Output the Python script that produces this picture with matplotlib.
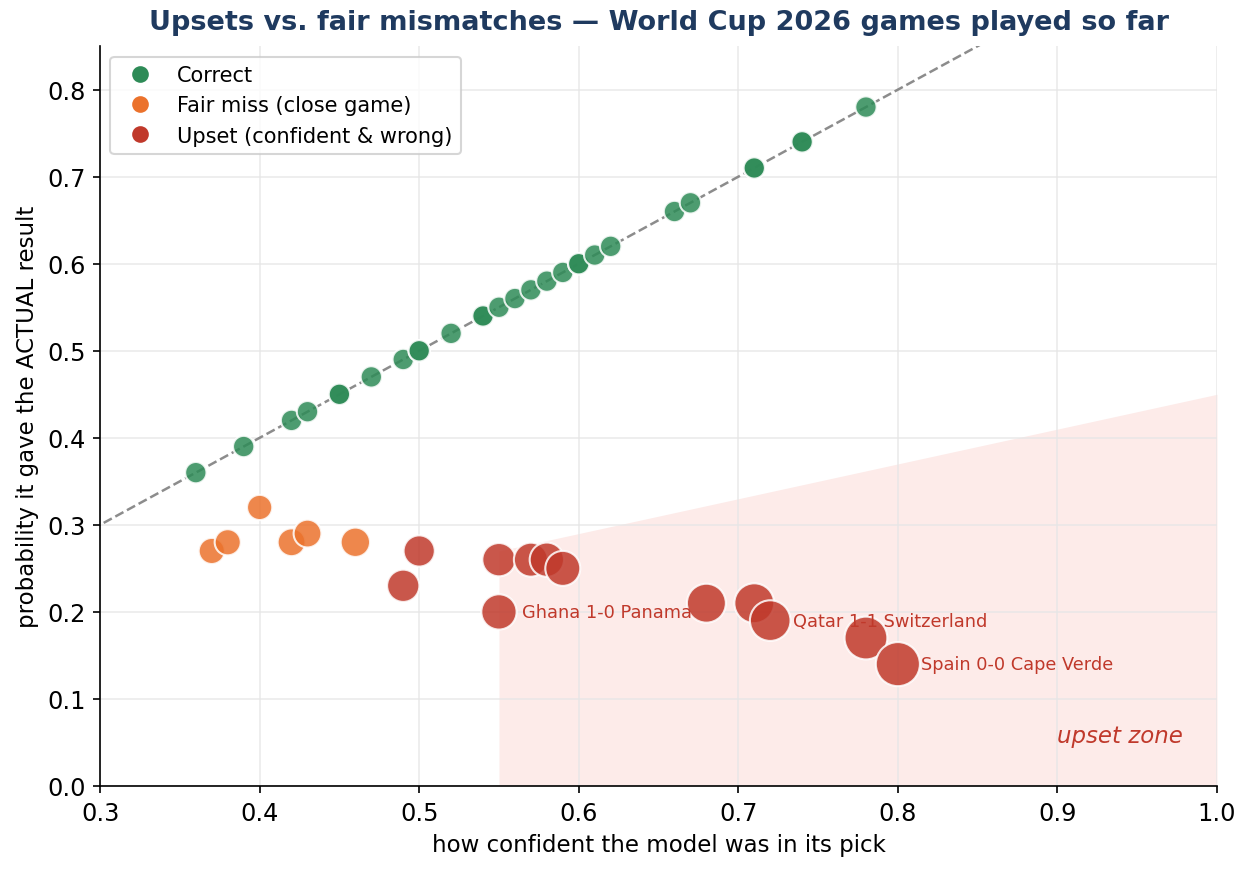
import numpy as np
import matplotlib
matplotlib.use("Agg")
import matplotlib.pyplot as plt
from matplotlib.lines import Line2D

# model confidence in its pick vs probability it gave the actual result
correct_conf = [0.36, 0.39, 0.42, 0.43, 0.45, 0.45, 0.47, 0.49, 0.50, 0.50, 0.52,
                0.54, 0.54, 0.55, 0.56, 0.57, 0.58, 0.59, 0.60, 0.60, 0.61, 0.62,
                0.66, 0.67, 0.71, 0.71, 0.74, 0.74, 0.78]
correct_actual = list(correct_conf)

fair_conf = [0.37, 0.38, 0.40, 0.42, 0.43, 0.46]
fair_actual = [0.27, 0.28, 0.32, 0.28, 0.29, 0.28]

upset_conf = [0.50, 0.49, 0.55, 0.57, 0.58, 0.59, 0.55, 0.68, 0.71, 0.72, 0.78, 0.80]
upset_actual = [0.27, 0.23, 0.26, 0.26, 0.26, 0.25, 0.20, 0.21, 0.21, 0.19, 0.17, 0.14]

labelled = ["Ghana 1-0 Panama", "Qatar 1-1 Switzerland", "Spain 0-0 Cape Verde"]
labelled_conf = [0.55, 0.72, 0.80]
labelled_actual = [0.20, 0.19, 0.14]

zone_x = [0.55, 1.0]
zone_top = [0.27, 0.45]

GREEN = "#2e8b57"
ORANGE = "#eb722c"
RED = "#c0392b"

def marker_size(conf, actual):
    return 105 + 520 * (np.array(conf) - np.array(actual))

fig = plt.figure(figsize=(8.34, 5.813), dpi=150)
ax = fig.add_axes([0.08, 0.0975, 0.8928, 0.8485])

ax.fill_between(zone_x, [0, 0], zone_top, color="#fdebe9", zorder=0, linewidth=0)
ax.plot([0, 1], [0, 1], linestyle="--", color="gray", alpha=0.9, linewidth=1.2, zorder=1)

for conf, actual, col in [(correct_conf, correct_actual, GREEN),
                          (fair_conf, fair_actual, ORANGE),
                          (upset_conf, upset_actual, RED)]:
    ax.scatter(conf, actual, s=marker_size(conf, actual), color=col, alpha=0.85,
               edgecolor="white", linewidth=1, zorder=3)

for name, cx, cy in zip(labelled, labelled_conf, labelled_actual):
    ax.annotate(name, (cx, cy), xytext=(11, 0), textcoords="offset points",
                va="center", ha="left", fontsize=8.5, color=RED, zorder=4)

ax.text(0.9, 0.05, "upset zone", color=RED, fontsize=11, style="italic")

ax.set_xlim(0.3, 1.0)
ax.set_ylim(0, 0.85)
ax.set_xticks(np.arange(0.3, 1.01, 0.1))
ax.set_yticks(np.arange(0, 0.81, 0.1))
ax.tick_params(labelsize=11.5)
ax.grid(True, color="#e6e6e6", linewidth=0.8, alpha=0.8)
ax.set_axisbelow(True)
for s in ["top", "right"]:
    ax.spines[s].set_visible(False)

ax.set_xlabel("how confident the model was in its pick", fontsize=11)
ax.set_ylabel("probability it gave the ACTUAL result", fontsize=11)
ax.set_title("Upsets vs. fair mismatches \u2014 World Cup 2026 games played so far",
             fontsize=13, fontweight="bold", color="#1f3a5f", pad=8)

handles = [Line2D([], [], marker="o", linestyle="", color=c, markersize=7)
           for c in (GREEN, ORANGE, RED)]
ax.legend(handles, ["Correct", "Fair miss (close game)", "Upset (confident & wrong)"],
          loc="upper left", fontsize=10)

fig.savefig("out.png", dpi=150)
